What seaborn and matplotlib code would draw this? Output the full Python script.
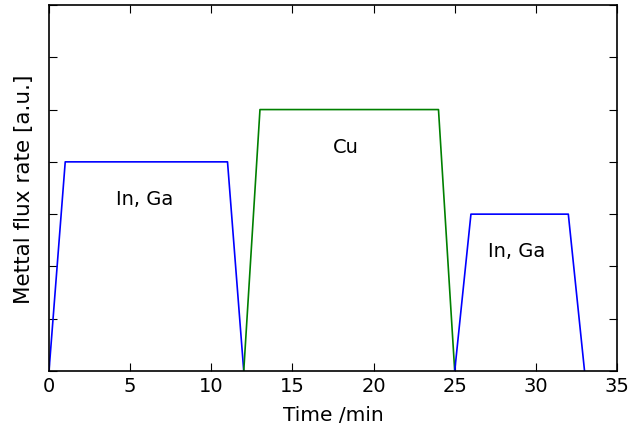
import matplotlib
matplotlib.use("Agg")
import matplotlib.pyplot as plt
import seaborn as sns
import pandas as pd

sns.set_style("ticks")
plt.rcParams['font.family'] = ['DejaVu Sans']
plt.rcParams['text.color'] = 'black'
plt.rcParams['axes.labelcolor'] = 'black'

# Data
ingA_t = [0, 1, 11, 12]
ingA_v = [0, 4, 4, 0]
cu_t = [12, 13, 24, 25]
cu_v = [0, 5, 5, 0]
ingB_t = [25, 26, 32, 33]
ingB_v = [0, 3, 3, 0]
labels = ["In, Ga", "Cu", "In, Ga"]
label_x = [5.9, 18.3, 28.8]
label_y = [3.3, 4.3, 2.3]

fig = plt.figure(figsize=(6.3, 4.27), dpi=100)
ax = fig.add_axes([49/630, 1-372/427, (617-49)/630, (372-6)/427])

sns.lineplot(x=ingA_t, y=ingA_v, ax=ax, color="blue", linewidth=1.2, sort=False)
sns.lineplot(x=cu_t, y=cu_v, ax=ax, color="green", linewidth=1.2, sort=False)
sns.lineplot(x=ingB_t, y=ingB_v, ax=ax, color="blue", linewidth=1.2, sort=False)

for s, xx, yy in zip(labels, label_x, label_y):
    ax.text(xx, yy, s, ha="center", va="center", fontsize=14, color="black")

ax.set_xlim(0, 35)
ax.set_ylim(0, 7)
ax.set_xticks(range(0, 36, 5))
ax.set_yticks(range(0, 8))
ax.set_yticklabels([])
ax.tick_params(direction="in", top=True, right=True, length=6, width=0.8, labelsize=14, colors="black")
for sp in ax.spines.values():
    sp.set_color("black")
    sp.set_linewidth(1.2)
ax.set_xlabel("Time /min", fontsize=14.5, color="black", labelpad=7)
ax.set_ylabel("Mettal flux rate [a.u.]", fontsize=15.5, color="black", labelpad=7)
ax.grid(False)

fig.savefig("out.png", dpi=100)
